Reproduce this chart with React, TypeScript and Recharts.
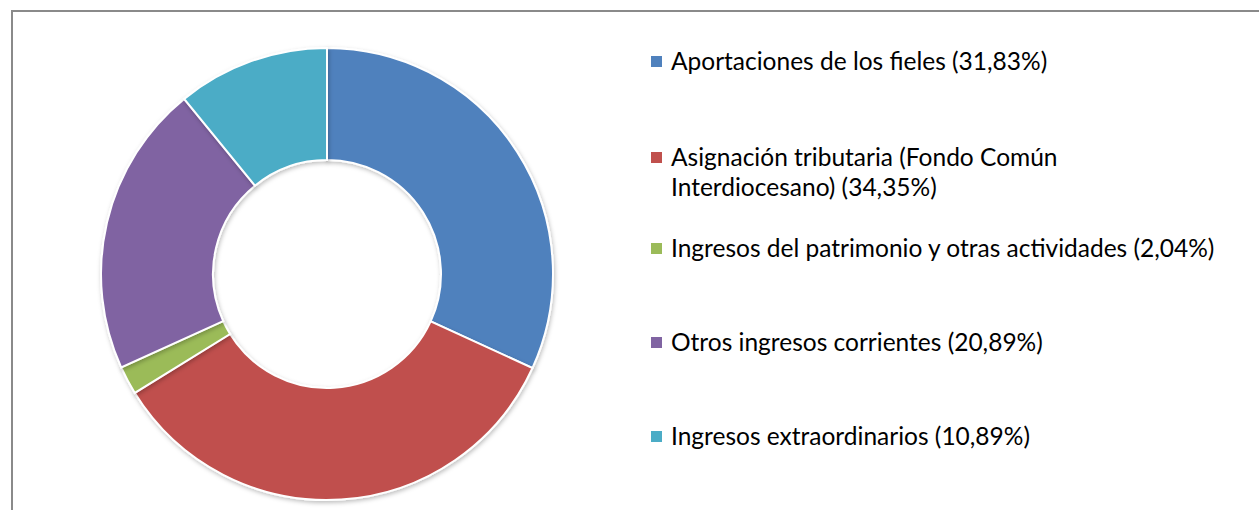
import { Cell, Legend, Pie, PieChart } from "recharts";

const categories = [
  "Aportaciones de los fieles",
  "Asignación tributaria (Fondo Común Interdiocesano)",
  "Ingresos del patrimonio y otras actividades",
  "Otros ingresos corrientes",
  "Ingresos extraordinarios",
];
const shares = [31.83, 34.35, 2.04, 20.89, 10.89];
const colors = ["#4F81BD", "#C0504D", "#9BBB59", "#8064A2", "#4BACC6"];

const data = categories.map((name, i) => ({ name, value: shares[i] }));

// top edge of each legend row (px)
const legendTops = [46, 142, 233, 327, 421];

const fmt = (v: number) => v.toFixed(2).replace(".", ",") + "%";

function LegendList() {
  return (
    <div style={{ position: "relative", width: 590, height: 480 }}>
      {data.map((d, i) => (
        <div
          key={d.name}
          style={{ position: "absolute", left: 0, top: legendTops[i], display: "flex", alignItems: "flex-start", width: 590 }}
        >
          <span style={{ flex: "none", width: 11, height: 11, background: colors[i], marginTop: 10, marginRight: 9 }} />
          <span
            style={{ fontFamily: "Lato", fontSize: 24.5, lineHeight: "30px", color: "#000", textAlign: "left", width: 548 }}
          >
            {d.name} ({fmt(d.value)})
          </span>
        </div>
      ))}
    </div>
  );
}

export default function App() {
  return (
    <div style={{ position: "fixed", left: 0, top: 0, width: 1259, height: 510, background: "#fff", overflow: "hidden" }}>
      <div
        style={{
          position: "absolute",
          left: 11,
          top: 10,
          width: 1300,
          height: 600,
          borderTop: "2px solid #8a8a8a",
          borderLeft: "2px solid #8a8a8a",
        }}
      />
      <div style={{ position: "absolute", left: 0, top: 0 }}>
        <PieChart width={1259} height={510} margin={{ top: 0, right: 0, bottom: 0, left: 0 }}>
          <defs>
            <filter id="sh" x="-10%" y="-10%" width="120%" height="120%">
              <feDropShadow dx="1" dy="2" stdDeviation="2" floodColor="#000" floodOpacity="0.25" />
            </filter>
          </defs>
          <Pie
            data={data}
            dataKey="value"
            nameKey="name"
            cx={327}
            cy={274}
            innerRadius={114}
            outerRadius={226}
            startAngle={90}
            endAngle={-270}
            stroke="#fff"
            strokeWidth={2}
            isAnimationActive={false}
            style={{ filter: "url(#sh)" }}
          >
            {data.map((d, i) => (
              <Cell key={d.name} fill={colors[i]} />
            ))}
          </Pie>
          <Legend
            layout="vertical"
            align="right"
            verticalAlign="top"
            content={() => <LegendList />}
            wrapperStyle={{ left: 651, top: 0, width: 590 }}
          />
        </PieChart>
      </div>
    </div>
  );
}
